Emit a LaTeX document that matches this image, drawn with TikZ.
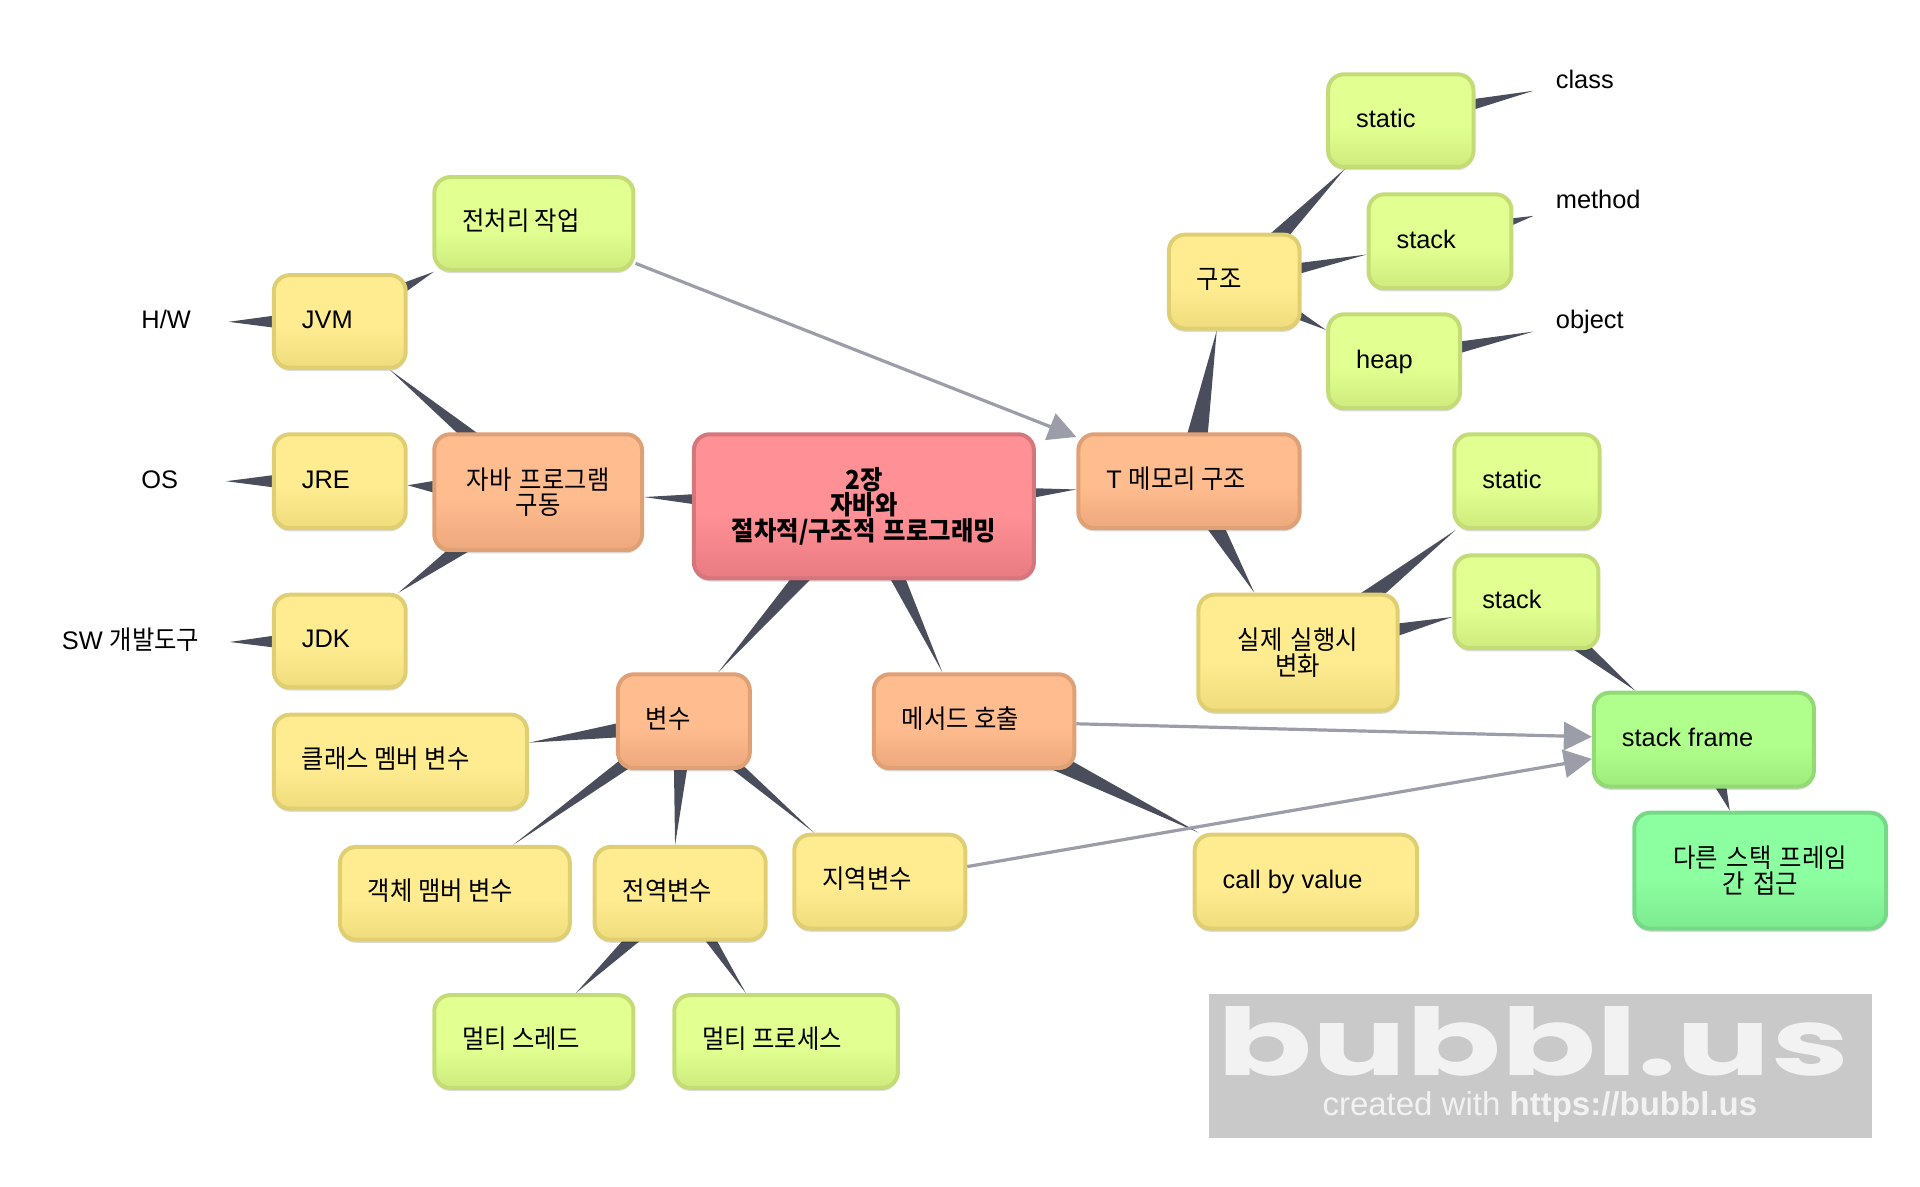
\documentclass[tikz,border=0pt]{standalone}
\usepackage{fontspec}
\setmainfont{Liberation Sans}
\newfontfamily\kr[FakeStretch=0.93,Scale=1.03]{Noto Sans CJK KR}
\newfontfamily\logofont[FakeStretch=1.5]{Poppins}
\usetikzlibrary{calc,shadows,arrows.meta,backgrounds,intersections}
\definecolor{rT}{HTML}{FF9095}\definecolor{rB}{HTML}{E87A82}\definecolor{rL}{HTML}{D5757C}
\definecolor{oT}{HTML}{FFBC8F}\definecolor{oB}{HTML}{EDA87C}\definecolor{oL}{HTML}{DFA075}
\definecolor{yT}{HTML}{FFEC91}\definecolor{yB}{HTML}{EFDC7C}\definecolor{yL}{HTML}{DFCF72}
\definecolor{lT}{HTML}{E2FF91}\definecolor{lB}{HTML}{CFEB7D}\definecolor{lL}{HTML}{C3DC76}
\definecolor{gT}{HTML}{B0FF8C}\definecolor{gB}{HTML}{9EEB7C}\definecolor{gL}{HTML}{92DA76}
\definecolor{mT}{HTML}{8CFFA0}\definecolor{mB}{HTML}{7DEA90}\definecolor{mL}{HTML}{76D986}
\definecolor{wedgecol}{HTML}{4A4E5C}\definecolor{arrowcol}{HTML}{9B9EA8}
\definecolor{wmbg}{HTML}{C9C9C9}\definecolor{wmtx}{HTML}{F2F2F2}
\newcommand{\mkshade}[2]{\pgfdeclareverticalshading{#1}{100bp}{color(0bp)=(#2B); color(25bp)=(#2B); color(47bp)=(#2T); color(100bp)=(#2T)}}
\mkshade{shR}{r}\mkshade{shO}{o}\mkshade{shY}{y}\mkshade{shL}{l}\mkshade{shG}{g}\mkshade{shM}{m}
\newcommand{\linestrut}{\rule[-4.7pt]{0pt}{16.2pt}}
\newcommand{\tightlines}{\lineskiplimit=-6pt\relax}
\tikzset{
  base/.style={rectangle,inner xsep=14pt,inner ysep=0pt,font=\fontsize{12.7}{12.9}\selectfont,text=black,execute at begin node=\tightlines},
  bubble/.style={base,rounded corners=8pt,line width=2pt,shade,shading=#1,
    drop shadow={shadow xshift=0pt,shadow yshift=-1.6pt,opacity=.14,fill=black}},
  red/.style={bubble=shR,draw=rL},
  ora/.style={bubble=shO,draw=oL},
  yel/.style={bubble=shY,draw=yL},
  lim/.style={bubble=shL,draw=lL},
  grn/.style={bubble=shG,draw=gL},
  mnt/.style={bubble=shM,draw=mL},
  plain/.style={base},
  oneline/.style={align=flush left},
  multi/.style={align=center},
  wedgefill/.style={fill=wedgecol},
  link/.style={draw=arrowcol,line width=1.6pt,-{Triangle[length=14pt,width=14pt]}}
}
% name, style, x1,y1,x2,y2, text
\newcommand{\bub}[7]{%
  \pgfmathsetmacro\bw{(#5-#3)*0.6122-0.8}%
  \pgfmathsetmacro\bh{(#6-#4)*0.6122-0.8}%
  \pgfmathsetmacro\btw{\bw-28}%
  \node[#2,minimum width=\bw pt,minimum height=\bh pt,text width=\btw pt] (#1) at ({(#3+#5)/2},{(#4+#6)/2}) {#7};}
\newcommand{\wedgeconn}[3]{%
  \coordinate (aimc) at ($(#2.center)+(-7,0)$);
  \path[name path=rimp] (#2.south west) rectangle (#2.north east);
  \path[name path=axisp] (#1.center) -- (aimc);
  \path[name intersections={of=rimp and axisp,by=tipc}];
  \fill[wedgefill] ($(#1.center)!#3*0.6122pt!90:(tipc)$) -- (tipc) -- ($(#1.center)!#3*0.6122pt!-90:(tipc)$) -- cycle;}
\begin{document}
\begin{tikzpicture}[x=0.6122pt,y=-0.6122pt]
\useasboundingbox (0,0) rectangle (1568,969);
% watermark
\node[rectangle,fill=wmbg,minimum width=331.8pt,minimum height=71.6pt,inner sep=0pt] (wm) at (1258,870.5) {};
\node[inner sep=0pt,anchor=base,text=wmtx,text depth=0pt,font=\fontsize{46.6}{47}\logofont\bfseries\selectfont] (wmlogo) at (1252,878) {bubbl.us};
\node[inner sep=0pt,text=wmtx,font=\fontsize{16.5}{17}\selectfont] (wmurl) at (1257.5,904) {created with \textbf{https://bubbl.us}};
% nodes
\bub{root}{red,multi}{566}{354}{845}{473}{\kr\bfseries 2장\\자바와\\절차적/구조적 프로그래밍}
\bub{java}{ora,multi}{354}{354}{525}{450}{\kr 자바 프로그램\\구동}
\bub{tmem}{ora,oneline}{880}{354}{1062}{432}{\linestrut T {\kr 메모리 구조}}
\bub{jvm}{yel,oneline}{223}{224}{332}{301}{\linestrut JVM}
\bub{jre}{yel,oneline}{223}{354}{332}{432}{\linestrut JRE}
\bub{jdk}{yel,oneline}{223}{485}{332}{562}{\linestrut JDK}
\bub{prep}{lim,oneline}{354}{144}{518}{221}{\linestrut{\kr 전처리 작업}}
\bub{hw}{plain,oneline}{92}{224}{187}{302}{\linestrut H/W}
\bub{os}{plain,oneline}{92}{354}{185}{432}{\linestrut OS}
\bub{sw}{plain,oneline}{27}{486}{188}{564}{\linestrut SW {\kr 개발도구}}
\bub{struct}{yel,oneline}{954}{191}{1062}{269}{\linestrut{\kr 구조}}
\bub{statica}{lim,oneline}{1084}{60}{1204}{137}{\linestrut static}
\bub{stacka}{lim,oneline}{1117}{158}{1235}{236}{\linestrut stack}
\bub{heap}{lim,oneline}{1084}{256}{1193}{334}{\linestrut heap}
\bub{class}{plain,oneline}{1252}{28}{1330}{106}{\linestrut\kern-3pt class}
\bub{method}{plain,oneline}{1252}{126}{1350}{204}{\linestrut\kern-3pt method}
\bub{object}{plain,oneline}{1252}{224}{1340}{302}{\linestrut\kern-3pt object}
\bub{staticb}{lim,oneline}{1187}{354}{1307}{432}{\linestrut static}
\bub{stackb}{lim,oneline}{1187}{453}{1306}{530}{\linestrut stack}
\bub{real}{yel,multi}{978}{485}{1142}{581}{\kr 실제 실행시\\변화}
\bub{frame}{grn,oneline}{1301}{565}{1482}{643}{\linestrut stack frame}
\bub{other}{mnt,multi}{1334}{663}{1541}{759}{\kr 다른 스택 프레임\\간 접근}
\bub{var}{ora,oneline}{504}{550}{613}{628}{\linestrut{\kr 변수}}
\bub{call}{ora,oneline}{713}{550}{878}{628}{\linestrut{\kr 메서드 호출}}
\bub{cmv}{yel,oneline}{223}{583}{431}{661}{\linestrut{\kr 클래스 멤버 변수}}
\bub{omv}{yel,oneline}{277}{691}{466}{768}{\linestrut{\kr 객체 맴버 변수}}
\bub{gv}{yel,oneline}{485}{691}{626}{768}{\linestrut{\kr 전역변수}}
\bub{lv}{yel,oneline}{648}{681}{789}{759}{\linestrut{\kr 지역변수}}
\bub{cbv}{yel,oneline}{975}{681}{1158}{759}{\linestrut call by value}
\bub{mt}{lim,oneline}{354}{812}{518}{889}{\linestrut{\kr 멀티 스레드}}
\bub{mp}{lim,oneline}{550}{812}{734}{889}{\linestrut{\kr 멀티 프로세스}}
% wedge connectors
\begin{scope}[on background layer]
\wedgeconn{root}{java}{18}
\wedgeconn{root}{tmem}{19}
\wedgeconn{root}{var}{11}
\wedgeconn{root}{call}{10}
\wedgeconn{java}{jvm}{10}
\wedgeconn{java}{jre}{24}
\wedgeconn{java}{jdk}{13}
\wedgeconn{jvm}{prep}{12}
\wedgeconn{jvm}{hw}{12}
\wedgeconn{jre}{os}{12}
\wedgeconn{jdk}{sw}{12}
\wedgeconn{tmem}{struct}{12}
\wedgeconn{tmem}{real}{11}
\wedgeconn{struct}{statica}{10.3}
\wedgeconn{struct}{stacka}{8.5}
\wedgeconn{struct}{heap}{11}
\wedgeconn{statica}{class}{9.3}
\wedgeconn{stacka}{method}{12}
\wedgeconn{heap}{object}{8.8}
\wedgeconn{real}{staticb}{12}
\wedgeconn{real}{stackb}{14}
\wedgeconn{stackb}{frame}{11}
\wedgeconn{frame}{other}{13}
\wedgeconn{var}{cmv}{10}
\wedgeconn{var}{omv}{7.5}
\wedgeconn{var}{gv}{8.7}
\wedgeconn{var}{lv}{7}
\wedgeconn{gv}{mt}{9.4}
\wedgeconn{gv}{mp}{7.5}
\wedgeconn{call}{cbv}{11}
\end{scope}
% arrows
\draw[link] (prep) -- (tmem);
\draw[link] (call) -- (frame);
\draw[link] (lv) -- (frame);
\end{tikzpicture}
\end{document}
